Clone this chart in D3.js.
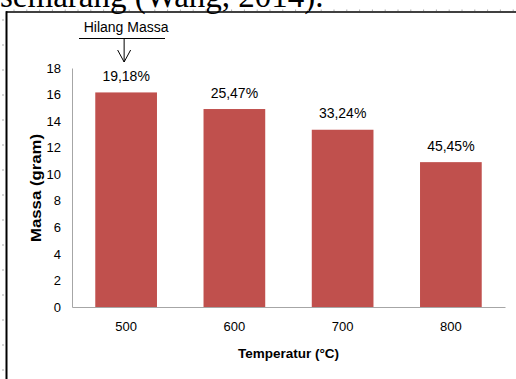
<!DOCTYPE html>
<html>
<head>
<meta charset="utf-8">
<script src="https://cdn.jsdelivr.net/npm/d3@7"></script>
<style>
html,body{margin:0;padding:0;background:#fff;overflow:hidden;}
svg{display:block;}
</style>
</head>
<body>
<script>
const categories = ["500", "600", "700", "800"];
const massValues = [16.16, 14.91, 13.35, 10.91];
const lossLabels = ["19,18%", "25,47%", "33,24%", "45,45%"];
const yTicks = [0, 2, 4, 6, 8, 10, 12, 14, 16, 18];

const W = 516, H = 379;
const svg = d3.select("body").append("svg").attr("width", W).attr("height", H);

// clipped document text above the figure
svg.append("text").attr("x", 0).attr("y", 7)
  .attr("font-family", "Liberation Serif, Times New Roman, serif")
  .attr("font-size", 33).attr("fill", "#000")
  .text("semarang (Wang, 2014).");

// ruler-like faint ticks
const rulerX = d3.range(14, W, 12.8);
svg.selectAll("line.rx").data(rulerX).enter().append("line")
  .attr("x1", d => d).attr("x2", d => d).attr("y1", 9.5).attr("y2", 11)
  .attr("stroke", "#aaa").attr("stroke-width", 1);
const rulerY = d3.range(20, H, 25);
svg.selectAll("line.ry").data(rulerY).enter().append("line")
  .attr("x1", 2).attr("x2", 4).attr("y1", d => d).attr("y2", d => d)
  .attr("stroke", "#aaa").attr("stroke-width", 1);

// frame
svg.append("line").attr("x1", 6).attr("x2", W).attr("y1", 12).attr("y2", 12)
  .attr("stroke", "#000").attr("stroke-width", 1.6);
svg.append("line").attr("x1", 6.5).attr("x2", 6.5).attr("y1", 11.2).attr("y2", H)
  .attr("stroke", "#000").attr("stroke-width", 2);

const m = {left: 72, right: 505, top: 68, bottom: 307};
const x = d3.scaleBand().domain(categories).range([m.left, m.right]).paddingInner(0.43).paddingOuter(0.215);
const y = d3.scaleLinear().domain([0, 18]).range([m.bottom, m.top]);

const font = "Liberation Sans, Arial, sans-serif";

// bars
svg.selectAll("rect.bar").data(massValues).enter().append("rect")
  .attr("x", (d, i) => x(categories[i]))
  .attr("y", d => y(d))
  .attr("width", x.bandwidth())
  .attr("height", d => y(0) - y(d))
  .attr("fill", "#C0504D");

// y axis
const yAxis = d3.axisLeft(y).tickValues(yTicks).tickSize(0).tickPadding(11);
const gy = svg.append("g").attr("transform", `translate(${m.left},0)`).call(yAxis);
gy.select(".domain").attr("stroke", "#a6a6a6").attr("stroke-width", 1);
gy.selectAll("text").attr("font-family", font).attr("font-size", 13).attr("fill", "#000");

// x axis
const xAxis = d3.axisBottom(x).tickSize(0).tickPadding(15);
const gx = svg.append("g").attr("transform", `translate(0,${m.bottom})`).call(xAxis);
gx.select(".domain").attr("stroke", "#a6a6a6").attr("stroke-width", 1);
gx.selectAll("text").attr("font-family", font).attr("font-size", 13).attr("fill", "#000");

// value labels
svg.selectAll("text.lbl").data(massValues).enter().append("text")
  .attr("x", (d, i) => x(categories[i]) + x.bandwidth() / 2)
  .attr("y", d => y(d) - 11.5)
  .attr("text-anchor", "middle")
  .attr("font-family", font).attr("font-size", 14).attr("fill", "#000")
  .text((d, i) => lossLabels[i]);

// axis titles
svg.append("text").attr("x", (m.left + m.right) / 2).attr("y", 357.5)
  .attr("text-anchor", "middle").attr("font-family", font).attr("font-size", 13.5)
  .attr("font-weight", "bold").attr("fill", "#000").text("Temperatur (°C)");
svg.append("text").attr("transform", `translate(40.5,188) rotate(-90)`)
  .attr("text-anchor", "middle").attr("font-family", font).attr("font-size", 15)
  .attr("font-weight", "bold").attr("fill", "#000")
  .attr("textLength", 108).attr("lengthAdjust", "spacingAndGlyphs")
  .text("Massa (gram)");

// annotation "Hilang Massa"
const cx0 = x(categories[0]) + x.bandwidth() / 2;
svg.append("text").attr("x", cx0).attr("y", 32)
  .attr("text-anchor", "middle").attr("font-family", font).attr("font-size", 14)
  .attr("fill", "#000").text("Hilang Massa");
svg.append("line").attr("x1", 79).attr("x2", 165).attr("y1", 38.5).attr("y2", 38.5)
  .attr("stroke", "#000").attr("stroke-width", 1);
svg.append("line").attr("x1", cx0 - 2).attr("x2", cx0 - 2).attr("y1", 38.5).attr("y2", 62)
  .attr("stroke", "#000").attr("stroke-width", 1);
svg.append("path").attr("d", `M${cx0 - 8.5},50 L${cx0 - 2},62 L${cx0 + 4.5},50`)
  .attr("fill", "none").attr("stroke", "#000").attr("stroke-width", 1);
</script>
</body>
</html>
